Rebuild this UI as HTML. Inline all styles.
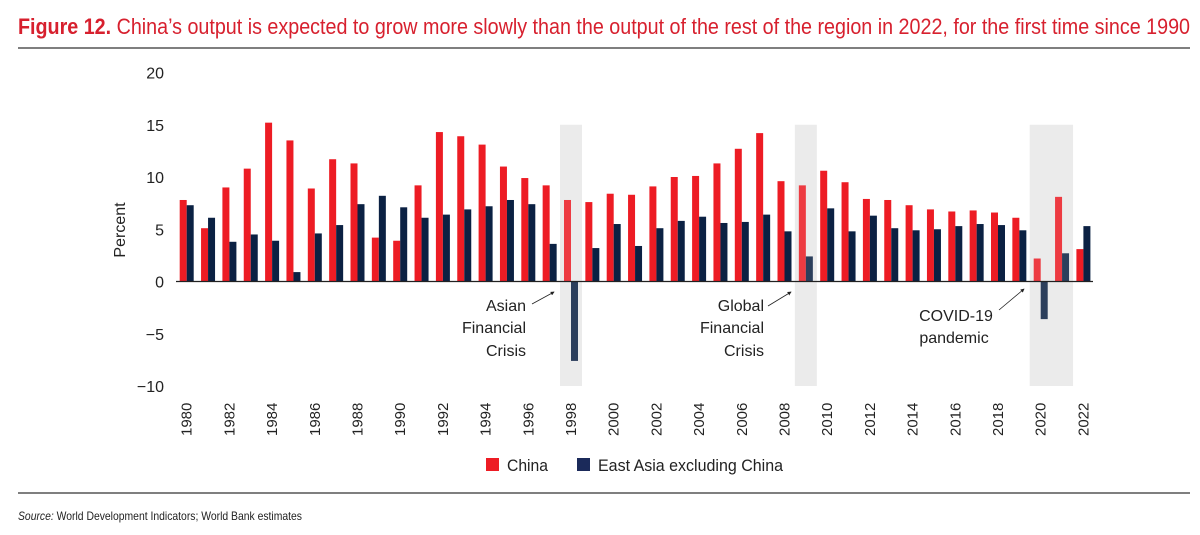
<!DOCTYPE html>
<html><head><meta charset="utf-8"><style>
body{margin:0;background:#fff;width:1200px;height:530px;overflow:hidden;font-family:"Liberation Sans",sans-serif}
</style></head><body>
<svg id="chart" width="1200" height="530" xmlns="http://www.w3.org/2000/svg" font-family="Liberation Sans, sans-serif">
<defs><marker id="ah" viewBox="0 0 6 6" refX="5" refY="3" markerWidth="5" markerHeight="5" orient="auto"><path d="M0,0 L6,3 L0,6 z" fill="#222"/></marker></defs>
<text x="18" y="34" font-size="22" fill="#d7202e" textLength="1172" lengthAdjust="spacingAndGlyphs"><tspan font-weight="bold">Figure 12.</tspan> China’s output is expected to grow more slowly than the output of the rest of the region in 2022, for the first time since 1990</text>
<line x1="18" y1="48" x2="1190" y2="48" stroke="#555" stroke-width="1.5"/>
<g id="shades"></g>
<g id="bars"></g>
<line x1="176" y1="281.5" x2="1093" y2="281.5" stroke="#222" stroke-width="1.2"/>
<g id="yaxis"></g>
<g id="xaxis"></g>
<text transform="translate(125,230) rotate(-90)" text-anchor="middle" font-size="16" fill="#222">Percent</text>
<g font-size="16" fill="#222" text-anchor="end">
<text x="526" y="311">Asian</text><text x="526" y="333">Financial</text><text x="526" y="356">Crisis</text>
<line x1="532" y1="304" x2="554" y2="292" stroke="#222" stroke-width="0.8" marker-end="url(#ah)"/>
</g>
<g font-size="16" fill="#222" text-anchor="end">
<text x="764" y="311">Global</text><text x="764" y="333">Financial</text><text x="764" y="356">Crisis</text>
<line x1="768" y1="306" x2="791" y2="292" stroke="#222" stroke-width="0.8" marker-end="url(#ah)"/>
</g>
<g font-size="16" fill="#222" text-anchor="middle">
<text x="956" y="321">COVID-19</text><text x="954" y="343">pandemic</text>
<line x1="999" y1="310" x2="1024" y2="289" stroke="#222" stroke-width="0.8" marker-end="url(#ah)"/>
</g>
<g font-size="17" fill="#222">
<rect x="486" y="458" width="13" height="13" fill="#ed1c24"/>
<text x="507" y="471" textLength="41" lengthAdjust="spacingAndGlyphs">China</text>
<rect x="577" y="458" width="13" height="13" fill="#1b2a5a"/>
<text x="598" y="471" textLength="185" lengthAdjust="spacingAndGlyphs">East Asia excluding China</text>
</g>
<line x1="18" y1="493" x2="1190" y2="493" stroke="#555" stroke-width="1.5"/>
<text x="18" y="520" font-size="12" fill="#222" textLength="284" lengthAdjust="spacingAndGlyphs"><tspan font-style="italic">Source:</tspan> World Development Indicators; World Bank estimates</text>
</svg>
<script>
const years=[1980,1981,1982,1983,1984,1985,1986,1987,1988,1989,1990,1991,1992,1993,1994,1995,1996,1997,1998,1999,2000,2001,2002,2003,2004,2005,2006,2007,2008,2009,2010,2011,2012,2013,2014,2015,2016,2017,2018,2019,2020,2021,2022];
const china=[7.8,5.1,9.0,10.8,15.2,13.5,8.9,11.7,11.3,4.2,3.9,9.2,14.3,13.9,13.1,11.0,9.9,9.2,7.8,7.6,8.4,8.3,9.1,10.0,10.1,11.3,12.7,14.2,9.6,9.2,10.6,9.5,7.9,7.8,7.3,6.9,6.7,6.8,6.6,6.1,2.2,8.1,3.1];
const eastAsia=[7.3,6.1,3.8,4.5,3.9,0.9,4.6,5.4,7.4,8.2,7.1,6.1,6.4,6.9,7.2,7.8,7.4,3.6,-7.6,3.2,5.5,3.4,5.1,5.8,6.2,5.6,5.7,6.4,4.8,2.4,7.0,4.8,6.3,5.1,4.9,5.0,5.3,5.5,5.4,4.9,-3.6,2.7,5.3];
const yTicks=[20,15,10,5,0,-5,-10];
const crises=[[1998,1998],[2009,2009],[2020,2021]];
const NS="http://www.w3.org/2000/svg";
const y=v=>281.5-v*10.45;
const x=yr=>186.7+(yr-1980)*21.35;
const bw=7;
function mk(tag,attrs,parent){const e=document.createElementNS(NS,tag);for(const k in attrs)e.setAttribute(k,attrs[k]);parent.appendChild(e);return e;}
const shades=document.getElementById('shades'),bars=document.getElementById('bars'),ya=document.getElementById('yaxis'),xa=document.getElementById('xaxis');
crises.forEach(c=>{
  const r=mk('rect',{x:x(c[0])-11,y:y(15),width:x(c[1])-x(c[0])+22,height:y(-10)-y(15),fill:'#ebebeb'},shades);
  
  
});
const inCrisis=yr=>crises.some(c=>yr>=c[0]&&yr<=c[1]);
years.forEach((yr,i)=>{
  const op=inCrisis(yr)?0.85:1;
  const c=china[i],e=eastAsia[i];
  const r1=mk('rect',{x:x(yr)-bw,y:Math.min(y(c),y(0)),width:bw,height:Math.abs(y(c)-y(0)),fill:'#ed1c24',opacity:op},bars);
  
  
  const r2=mk('rect',{x:x(yr),y:Math.min(y(e),y(0)),width:bw,height:Math.abs(y(e)-y(0)),fill:'#0b2143',opacity:op},bars);
  
  
  if(yr%2===0){
    const t=mk('text',{transform:`translate(${x(yr)+5},436) rotate(-90)`,'font-size':'15',fill:'#222'},xa);
    t.textContent=yr;
    
    
  }
});
yTicks.forEach(v=>{
  const t=mk('text',{x:164,y:y(v)+6,'text-anchor':'end','font-size':'16',fill:'#222'},ya);
  t.textContent=v<0?'\u2212'+Math.abs(v):v;
  
  
});
</script>
</body></html>
